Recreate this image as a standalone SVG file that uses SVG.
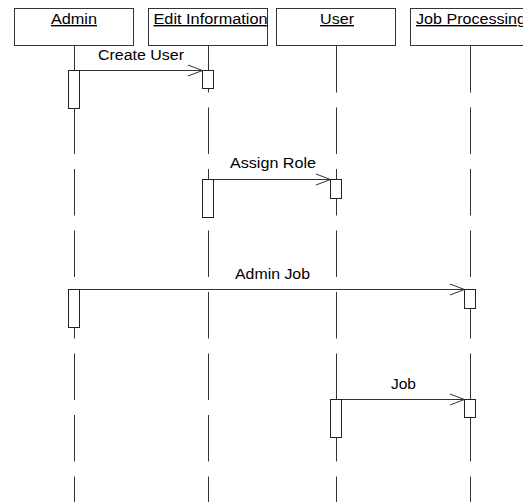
<svg xmlns="http://www.w3.org/2000/svg" width="523" height="502" viewBox="0 0 523 502">
  <style>
    .head { fill: #fff; stroke: #333; stroke-width: 1; }
    .life { stroke: #333; stroke-width: 1; stroke-dasharray: 46.5 15; fill: none; }
    .act { fill: #fff; stroke: #222; stroke-width: 1; }
    .msg { stroke: #333; stroke-width: 1; fill: none; }
    .tip { stroke: #333; stroke-width: 1; fill: none; }
    text { font-family: "Liberation Sans", Arial, sans-serif; font-size: 14px; fill: #000; }
    .name { text-decoration: underline; }
  </style>
  <rect width="523" height="502" fill="#fff"/>

  <!-- lifelines -->
  <g id="lifelines">
    <line class="life" x1="74.5" y1="46" x2="74.5" y2="502"/>
    <line class="life" x1="208.5" y1="46" x2="208.5" y2="502"/>
    <line class="life" x1="336.5" y1="46" x2="336.5" y2="502"/>
    <line class="life" x1="470.5" y1="46" x2="470.5" y2="502"/>
  </g>

  <!-- participants -->
  <g id="admin">
    <rect class="head" x="14.5" y="8.5" width="119" height="37"/>
    <text class="name" x="74" y="24" text-anchor="middle" textLength="46" lengthAdjust="spacingAndGlyphs">Admin</text>
  </g>
  <g id="edit-information">
    <rect class="head" x="148.5" y="8.5" width="119" height="37"/>
    <text class="name" x="210.5" y="24" text-anchor="middle" textLength="114" lengthAdjust="spacingAndGlyphs">Edit Information</text>
  </g>
  <g id="user">
    <rect class="head" x="276.5" y="8.5" width="119" height="37"/>
    <text class="name" x="337" y="24" text-anchor="middle" textLength="34" lengthAdjust="spacingAndGlyphs">User</text>
  </g>
  <g id="job-processing">
    <rect class="head" x="410.5" y="8.5" width="119" height="37"/>
    <text class="name" x="471" y="24" text-anchor="middle" textLength="110" lengthAdjust="spacingAndGlyphs">Job Processing</text>
  </g>

  <!-- activation bars -->
  <g id="activations">
    <rect class="act" x="68.5" y="70.5" width="11" height="38"/>
    <rect class="act" x="202.5" y="70.5" width="11" height="18"/>
    <rect class="act" x="202.5" y="179.5" width="11" height="38"/>
    <rect class="act" x="330.5" y="179.5" width="11" height="19"/>
    <rect class="act" x="68.5" y="289.5" width="11" height="38"/>
    <rect class="act" x="464.5" y="289.5" width="11" height="19"/>
    <rect class="act" x="330.5" y="399.5" width="11" height="38"/>
    <rect class="act" x="464.5" y="399.5" width="11" height="18"/>
  </g>

  <!-- messages -->
  <g id="connectors">
    <line class="msg" x1="79.5" y1="70.5" x2="202.5" y2="70.5"/>
    <polyline class="tip" points="188,65 202.5,70.5 188,76"/>
    <text x="141" y="60" text-anchor="middle" textLength="86" lengthAdjust="spacingAndGlyphs">Create User</text>

    <line class="msg" x1="213.5" y1="179.5" x2="330.5" y2="179.5"/>
    <polyline class="tip" points="316,174 330.5,179.5 316,185"/>
    <text x="273" y="168" text-anchor="middle" textLength="86" lengthAdjust="spacingAndGlyphs">Assign Role</text>

    <line class="msg" x1="79.5" y1="289.5" x2="464.5" y2="289.5"/>
    <polyline class="tip" points="450,284 464.5,289.5 450,295"/>
    <text x="272.5" y="279" text-anchor="middle" textLength="75" lengthAdjust="spacingAndGlyphs">Admin Job</text>

    <line class="msg" x1="341.5" y1="399.5" x2="464.5" y2="399.5"/>
    <polyline class="tip" points="450,394 464.5,399.5 450,405"/>
    <text x="403.5" y="389" text-anchor="middle" textLength="25" lengthAdjust="spacingAndGlyphs">Job</text>
  </g>
</svg>
